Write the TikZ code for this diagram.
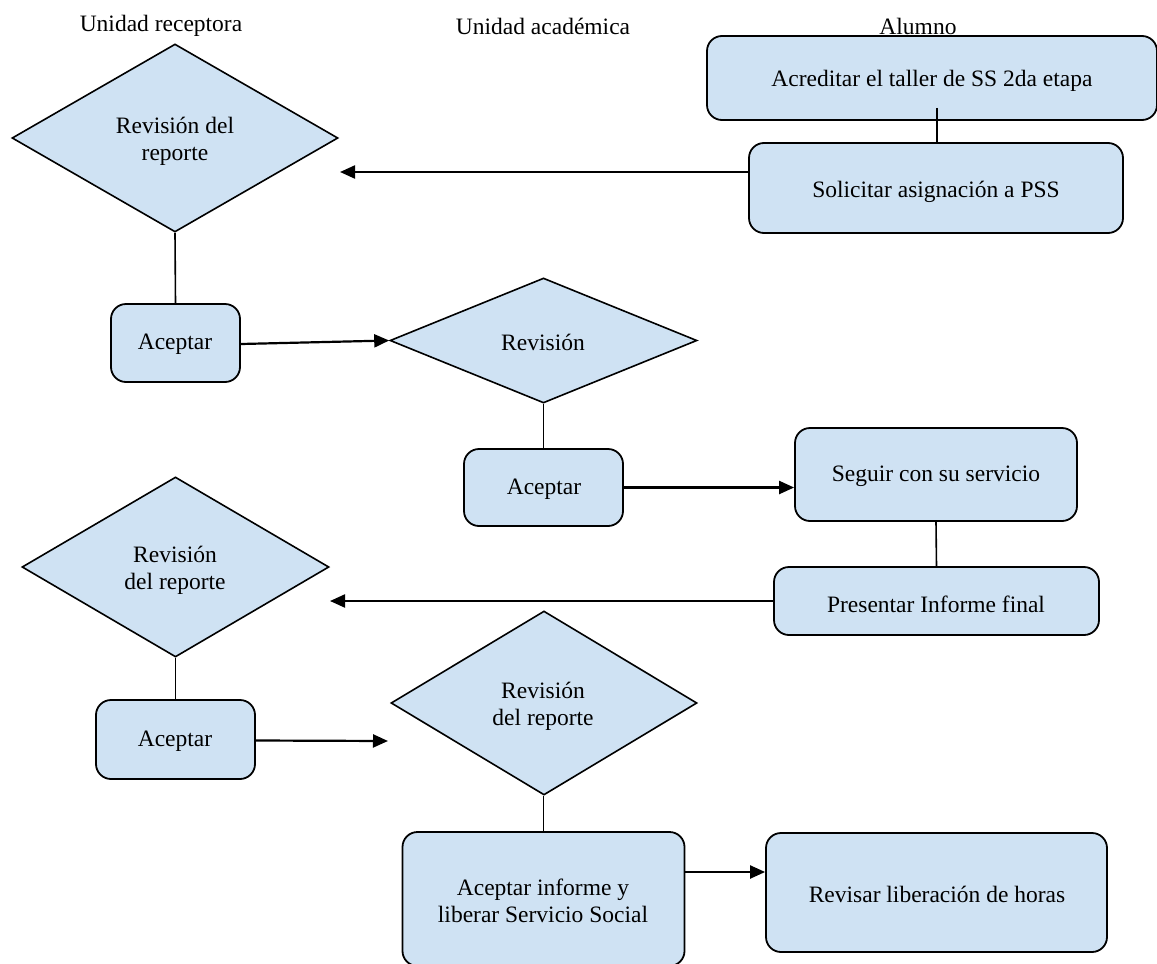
\documentclass[tikz,border=0pt]{standalone}
\usepackage{fontspec}
\setmainfont{Liberation Serif}
\usetikzlibrary{shapes.geometric,arrows.meta}
\definecolor{boxfill}{HTML}{CFE2F3}
\begin{document}
\begin{tikzpicture}[x=1pt,y=-1pt,
  every node/.style={font=\fontsize{23.5}{27}\selectfont},
  rbox/.style={draw, line width=1.8pt, fill=boxfill, rounded corners=15pt, inner sep=0pt},
  dia/.style={draw, line width=1.6pt, fill=boxfill, diamond, inner sep=0pt},
  txt/.style={align=center, inner sep=0pt},
  conn/.style={line width=1.6pt},
  arr/.style={line width=2.2pt, -{Triangle[length=15pt,width=13pt]}}]
\useasboundingbox (0,0) rectangle (1157,964);
% lane titles
\node[txt] (t1) at (161,26) {Unidad receptora};
\node[txt] (t2) at (543,26) {Unidad académica};
\node[txt] (t3) at (918,26) {Alumno};
% shapes
\node[rbox, minimum width=450pt, minimum height=84pt] (acr) at (932,78) {};
\node[rbox, minimum width=374pt, minimum height=90pt] (sol) at (936,188) {};
\node[dia, minimum width=326pt, minimum height=188pt] (d1) at (175,138) {};
\node[rbox, minimum width=129pt, minimum height=78pt] (a1) at (175.5,343) {};
\node[dia, minimum width=307pt, minimum height=125pt] (d2) at (543.5,340.5) {};
\node[rbox, minimum width=159pt, minimum height=77pt] (a2) at (543.5,487.5) {};
\node[rbox, minimum width=282pt, minimum height=93pt] (seg) at (936,474.5) {};
\node[rbox, minimum width=325pt, minimum height=68pt] (pre) at (936.5,601) {};
\node[dia, minimum width=307pt, minimum height=180pt] (d3) at (175.5,567) {};
\node[rbox, minimum width=159pt, minimum height=79pt] (a3) at (175.5,739.5) {};
\node[dia, minimum width=306pt, minimum height=184pt] (d4) at (544,703) {};
\node[rbox, minimum width=282pt, minimum height=134pt] (lib) at (543.5,899) {};
\node[rbox, minimum width=341pt, minimum height=119pt] (rev) at (936.5,892.5) {};
% texts
\node[txt] (acrt) at (932,81) {Acreditar el taller de SS 2da etapa};
\node[txt] (solt) at (936,192) {Solicitar asignación a PSS};
\node[txt] (d1t) at (175,141) {Revisión del\\ reporte};
\node[txt] (a1t) at (175,344) {Aceptar};
\node[txt] (d2t) at (543,342) {Revisión};
\node[txt] (a2t) at (544,489) {Aceptar};
\node[txt] (segt) at (936,476) {Seguir con su servicio};
\node[txt] (pret) at (936,604) {Presentar Informe final};
\node[txt] (d3t) at (175,570) {Revisión\\ del reporte};
\node[txt] (a3t) at (175,741) {Aceptar};
\node[txt] (d4t) at (543,706) {Revisión\\ del reporte};
\node[txt] (libt) at (543,901) {Aceptar informe y\\ liberar Servicio Social};
\node[txt] (revt) at (937,894) {Revisar liberación de horas};
% free arrow ends
\coordinate (e1) at (340,172);
\coordinate (e2) at (330,601);
\coordinate (e3) at (388,741);
% connectors
\draw[conn] (acr.south) ++(5,-13) -- (sol.north -| 937,0);
\draw[arr] (sol.west |- 0,172) -- (e1);
\draw[conn] (d1.south) -- (a1.north);
\draw[arr] (a1.east) ++(0,1) -- (d2.west);
\draw[conn] (d2.south) -- (a2.north);
\draw[arr] (a2.east) -- (seg.west |- a2.east);
\draw[conn] (seg.south) -- (pre.north);
\draw[arr] (pre.west) -- (e2);
\draw[conn] (d3.south) -- (a3.north);
\draw[arr] (a3.east) ++(0,1) -- (e3);
\draw[conn] (d4.south -| lib.north) -- (lib.north);
\draw[arr] (lib.east |- 0,872) -- (rev.west |- 0,872);
\end{tikzpicture}
\end{document}
